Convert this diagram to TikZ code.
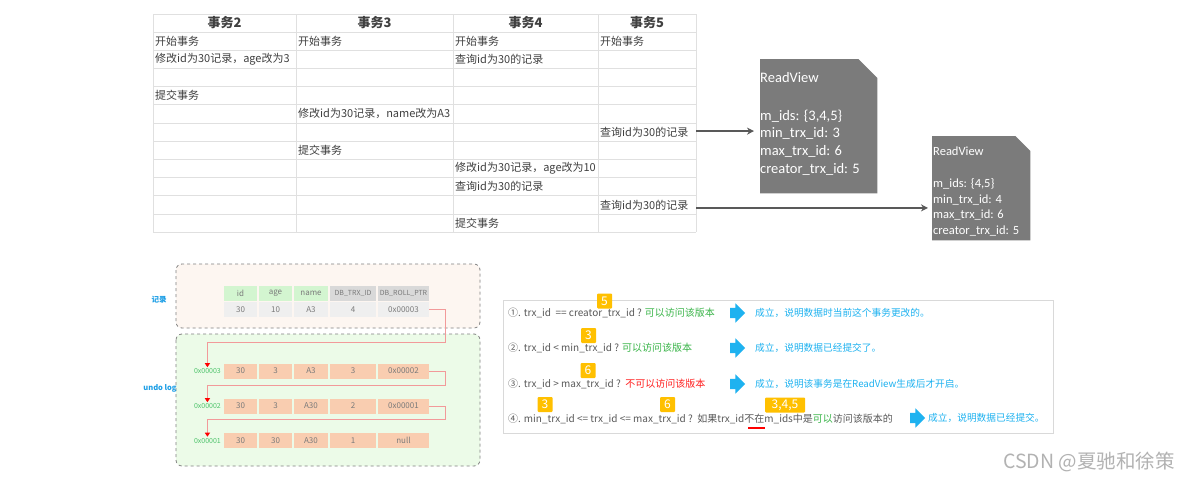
\documentclass[tikz,border=0pt]{standalone}
\usepackage{fontspec}
\setmainfont{Noto Sans CJK SC}
\newfontfamily\calfont{Carlito}
\usetikzlibrary{shapes.arrows,calc,arrows.meta}
\definecolor{gridc}{HTML}{E0E0E0}
\definecolor{txt}{HTML}{404040}
\definecolor{rvgray}{HTML}{7B7B7B}
\definecolor{arrgray}{HTML}{595959}
\definecolor{recfill}{HTML}{FDF6F1}
\definecolor{undofill}{HTML}{ECFBE8}
\definecolor{hdgreen}{HTML}{D3F5D0}
\definecolor{hdgray}{HTML}{D9D9D9}
\definecolor{datgray}{HTML}{EFEFEF}
\definecolor{orangec}{HTML}{F9CDB0}
\definecolor{celltxt}{HTML}{7A7A7A}
\definecolor{labgreen}{HTML}{4FC46C}
\definecolor{ptrred}{HTML}{F29A9A}
\definecolor{skyb}{HTML}{1EB2F0}
\definecolor{badgey}{HTML}{FFC000}
\definecolor{okgreen}{HTML}{3BB54A}
\definecolor{nored}{HTML}{FF2020}
\definecolor{rtxt}{HTML}{595959}
\definecolor{lblblue}{HTML}{1E9FE6}
\begin{document}
\begin{tikzpicture}[x=1pt,y=-1pt,
  hdr/.style={font=\bfseries\fontsize{13}{14}\selectfont, text=txt, inner sep=0},
  cellt/.style={anchor=west, font=\fontsize{11}{12}\selectfont, text=txt, inner sep=0},
  rvtext/.style={anchor=north west, align=left, text=white, inner sep=0},
  conn/.style={arrgray, line width=1.4pt, -{Stealth[length=7pt,width=7pt]}},
  cellb/.style={minimum height=#1, inner sep=0, font=\fontsize{8}{9}\selectfont, text=celltxt},
  addr/.style={anchor=east, inner sep=1pt, font=\fontsize{7}{8}\selectfont, text=labgreen},
  ptr/.style={ptrred, line width=0.9pt, -{Triangle[width=5pt,length=4pt,color=red]}},
  rline/.style={anchor=west, inner sep=0, font=\fontsize{10}{11}\selectfont, text=rtxt},
  btxt/.style={anchor=west, inner sep=0, font=\fontsize{9.7}{11}\selectfont, text=skyb},
  barrow/.style={single arrow, fill=skyb, draw=none, inner xsep=0pt, inner ysep=5pt, minimum height=15pt, single arrow head extend=4.5pt, single arrow head indent=0pt},
  badge/.style={fill=badgey, text=white, inner sep=0, minimum height=15pt, minimum width=15pt, rounded corners=1pt, font=\fontsize{12}{13}\selectfont}
]
\useasboundingbox (0,0) rectangle (1178,482);
\fill[white] (0,0) rectangle (1178,482);

% ---------- table ----------
\foreach \k in {0,...,11} \draw[gridc, line width=1pt] (153,{32+\k*18.2}) -- (696,{32+\k*18.2});
\draw[gridc, line width=1pt] (153,14) -- (696,14);
\foreach \xx in {153,296,453,598,696} \draw[gridc, line width=1pt] (\xx,14) -- (\xx,232.2);

\node[hdr] (h2) at (224.5,23) {事务2};
\node[hdr] (h3) at (374.5,23) {事务3};
\node[hdr] (h4) at (525.5,23) {事务4};
\node[hdr] (h5) at (647,23) {事务5};

\node[cellt] (c1-2) at (155,41.1) {开始事务};
\node[cellt] (c1-3) at (298,41.1) {开始事务};
\node[cellt] (c1-4) at (455,41.1) {开始事务};
\node[cellt] (c1-5) at (600,41.1) {开始事务};
\node[cellt] (c2-2) at (155,59.3) {修改id为30记录，age改为3};
\node[cellt] (c2-4) at (455,59.3) {查询id为30的记录};
\node[cellt] (c4-2) at (155,95.7) {提交事务};
\node[cellt] (c5-3) at (298,113.9) {修改id为30记录，name改为A3};
\node[cellt] (c6-5) at (600,132.1) {查询id为30的记录};
\node[cellt] (c7-3) at (298,150.3) {提交事务};
\node[cellt] (c8-4) at (455,168.5) {修改id为30记录，age改为10};
\node[cellt] (c9-4) at (455,186.7) {查询id为30的记录};
\node[cellt] (c10-5) at (600,204.9) {查询id为30的记录};
\node[cellt] (c11-4) at (455,223.1) {提交事务};

% ---------- ReadViews ----------
\node[minimum width=117pt, minimum height=134pt, inner sep=0, anchor=north west] (rv1) at (760,59) {};
\fill[rvgray] (rv1.south west) -- (rv1.north west) -- ($(rv1.north east)+(-19,0)$) -- ($(rv1.north east)+(0,19)$) -- (rv1.south east) -- cycle;
\node[rvtext, font=\calfont\fontsize{14.5}{17.8}\selectfont] (rv1t) at (760,72) {ReadView\\[20pt]m\_ids: \{3,4,5\}\\min\_trx\_id: 3\\max\_trx\_id: 6\\creator\_trx\_id: 5};

\node[minimum width=98pt, minimum height=104pt, inner sep=0, anchor=north west] (rv2) at (932,136) {};
\fill[rvgray] (rv2.south west) -- (rv2.north west) -- ($(rv2.north east)+(-15,0)$) -- ($(rv2.north east)+(0,15)$) -- (rv2.south east) -- cycle;
\node[rvtext, font=\calfont\fontsize{12.5}{15.6}\selectfont] (rv2t) at (933,147) {ReadView\\[16pt]m\_ids: \{4,5\}\\min\_trx\_id: 4\\max\_trx\_id: 6\\creator\_trx\_id: 5};

\draw[conn] ($(c6-5.east)+(8,-1)$) -- ($(rv1.west |- c6-5.east)+(-6,-1)$);
\draw[conn] ($(c10-5.east)+(8,3)$) -- ($(rv2.west |- c10-5.east)+(-4,3)$);

% ---------- record / undo log ----------
\draw[gray, dashed, line width=0.8pt, fill=recfill, rounded corners=6pt] (176,264) rectangle (480,328);
\draw[gray, dashed, line width=0.8pt, fill=undofill, rounded corners=6pt] (176,334) rectangle (480,466);
\node[inner sep=0, text=lblblue, font=\bfseries\fontsize{7.5}{9}\selectfont] (lrec) at (159,300) {记录};
\node[inner sep=0, text=lblblue, font=\bfseries\fontsize{7.5}{9}\selectfont] (lundo) at (160,388) {undo log};

\node[cellb=14.5pt, minimum width=33.5pt, fill=hdgreen] (rh1) at (240.5,293.5) {id};
\node[cellb=14.5pt, minimum width=33.5pt, fill=hdgreen] (rh2) at (275.5,293.5) {age};
\node[cellb=14.5pt, minimum width=34.5pt, fill=hdgreen] (rh3) at (311,293.5) {name};
\node[cellb=14.5pt, minimum width=46.5pt, fill=hdgray, font=\fontsize{7}{8}\selectfont] (rh4) at (353,293.5) {DB\_TRX\_ID};
\node[cellb=14.5pt, minimum width=51.5pt, fill=hdgray, font=\fontsize{7}{8}\selectfont] (rh5) at (403.5,293.5) {DB\_ROLL\_PTR};
\node[cellb=15.5pt, minimum width=33.5pt, fill=datgray] (rd1) at (240.5,309.5) {30};
\node[cellb=15.5pt, minimum width=33.5pt, fill=datgray] (rd2) at (275.5,309.5) {10};
\node[cellb=15.5pt, minimum width=34.5pt, fill=datgray] (rd3) at (311,309.5) {A3};
\node[cellb=15.5pt, minimum width=46.5pt, fill=datgray] (rd4) at (353,309.5) {4};
\node[cellb=15.5pt, minimum width=51.5pt, fill=datgray] (rd5) at (403.5,309.5) {0x00003};

\node[cellb=15pt, minimum width=33.5pt, fill=orangec] (ua1) at (240.5,371) {30};
\node[cellb=15pt, minimum width=33.5pt, fill=orangec] (ua2) at (275.5,371) {3};
\node[cellb=15pt, minimum width=34.5pt, fill=orangec] (ua3) at (311,371) {A3};
\node[cellb=15pt, minimum width=46.5pt, fill=orangec] (ua4) at (353,371) {3};
\node[cellb=15pt, minimum width=51.5pt, fill=orangec] (ua5) at (403.5,371) {0x00002};
\node[addr] (la) at (222,371) {0x00003};

\node[cellb=15pt, minimum width=33.5pt, fill=orangec] (ub1) at (240.5,406) {30};
\node[cellb=15pt, minimum width=33.5pt, fill=orangec] (ub2) at (275.5,406) {3};
\node[cellb=15pt, minimum width=34.5pt, fill=orangec] (ub3) at (311,406) {A30};
\node[cellb=15pt, minimum width=46.5pt, fill=orangec] (ub4) at (353,406) {2};
\node[cellb=15pt, minimum width=51.5pt, fill=orangec] (ub5) at (403.5,406) {0x00001};
\node[addr] (lb) at (222,406) {0x00002};

\node[cellb=15pt, minimum width=33.5pt, fill=orangec] (uc1) at (240.5,440.5) {30};
\node[cellb=15pt, minimum width=33.5pt, fill=orangec] (uc2) at (275.5,440.5) {30};
\node[cellb=15pt, minimum width=34.5pt, fill=orangec] (uc3) at (311,440.5) {A30};
\node[cellb=15pt, minimum width=46.5pt, fill=orangec] (uc4) at (353,440.5) {1};
\node[cellb=15pt, minimum width=51.5pt, fill=orangec] (uc5) at (403.5,440.5) {null};
\node[addr] (lc) at (222,440.5) {0x00001};

\coordinate (k1) at (445,342);
\coordinate (k2) at (445,385);
\coordinate (k3) at (445,419);
\draw[ptr] (rd5.east) -| (k1) -| (la.north);
\draw[ptr] (ua5.east) -| (k2) -| (lb.north);
\draw[ptr] (ub5.east) -| (k3) -| (lc.north);

% ---------- rules box ----------
\node[draw=hdgray, line width=0.9pt, fill=white, minimum width=550pt, minimum height=133pt, inner sep=0, anchor=north west] (rbox) at (503,300) {};

\node[rline] (r1) at (508,313) {①. trx\_id\ \ == creator\_trx\_id ? {\color{okgreen}可以访问该版本}};
\node[rline] (r2) at (508,348) {②. trx\_id < min\_trx\_id ? {\color{okgreen}可以访问该版本}};
\node[rline] (r3) at (508,384) {③. trx\_id > max\_trx\_id ?\ \ {\color{nored}不可以访问该版本}};
\node[rline] (r4) at (508,419) {④. min\_trx\_id <= trx\_id <= max\_trx\_id ?\ \ 如果trx\_id不在m\_ids中是{\color{okgreen}可以}访问该版本的};

\node[barrow] (a1) at (735,313) {};
\node[barrow] (a2) at (735,348) {};
\node[barrow] (a3) at (735,384) {};
\node[barrow] (a4) at (915,418) {};

\node[btxt] (t1) at (755,313) {成立，说明数据时当前这个事务更改的。};
\node[btxt] (t2) at (755,348) {成立，说明数据已经提交了。};
\node[btxt] (t3) at (755,384) {成立，说明该事务是在ReadView生成后才开启。};
\node[btxt] (t4) at (928,418) {成立，说明数据已经提交。};

\node[badge] (b1) at (604.5,301) {5};
\node[badge] (b2) at (588.5,335.5) {3};
\node[badge] (b3) at (588,370.5) {6};
\node[badge] (b4) at (545,404.5) {3};
\node[badge] (b5) at (667.5,404.5) {6};
\node[badge, minimum width=40pt] (b6) at (785,405) {3,4,5};

\coordinate (u1) at (748,428);
\coordinate (u2) at (765,428);
\draw[red, line width=2.5pt] (u1) -- (u2);

% watermark
\node[anchor=east, inner sep=0, text=black!30, font=\fontsize{19.5}{21}\selectfont] (wm) at (1175,462) {CSDN @夏驰和徐策};
\end{tikzpicture}
\end{document}
